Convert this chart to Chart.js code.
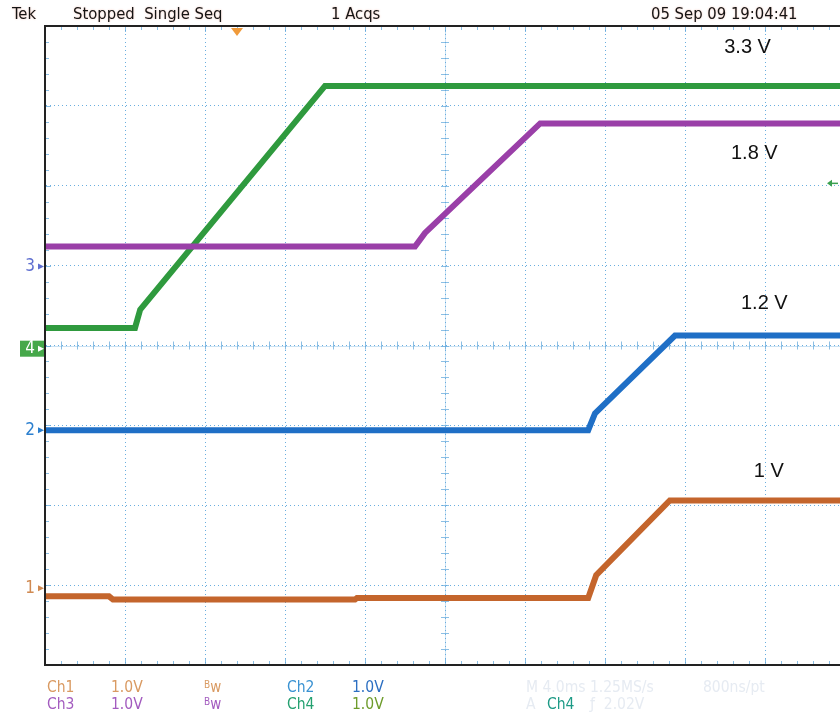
<!DOCTYPE html>
<html>
<head>
<meta charset="utf-8">
<script src="https://cdn.jsdelivr.net/npm/chart.js@4"></script>
<style>
  html,body{margin:0;padding:0;background:#fff;overflow:hidden;width:840px;height:717px;}
  #wrap{position:absolute;left:0;top:0;width:850px;height:717px;}
  .t{position:absolute;font-family:"Liberation Sans Narrow","DejaVu Sans Condensed","Liberation Sans",Arial,sans-serif;font-size:15.5px;white-space:nowrap;line-height:16px;}
  .hd{color:#151515;font-size:16.5px;text-shadow:0 0 2px rgba(230,120,90,0.45);}
</style>
</head>
<body>
<div id="wrap"><canvas id="c" width="850" height="717"></canvas></div>

<div class="t hd" style="left:12px;top:6px;">Tek</div>
<div class="t hd" style="left:73px;top:6px;">Stopped&nbsp; Single Seq</div>
<div class="t hd" style="left:331px;top:6px;">1 Acqs</div>
<div class="t hd" style="left:651px;top:6px;">05 Sep 09 19:04:41</div>

<div class="t" style="left:47px;top:679px;color:#d99a62;">Ch1</div>
<div class="t" style="left:111px;top:679px;color:#d99a62;">1.0V</div>
<div class="t" style="left:204px;top:679px;color:#d99a62;font-size:15px;"><span style="position:relative;top:-4px;font-size:10px;">B</span>w</div>
<div class="t" style="left:287px;top:679px;color:#3a92d2;">Ch2</div>
<div class="t" style="left:352px;top:679px;color:#2c6fc2;">1.0V</div>
<div class="t" style="left:47px;top:696px;color:#a35cbf;">Ch3</div>
<div class="t" style="left:111px;top:696px;color:#a35cbf;">1.0V</div>
<div class="t" style="left:204px;top:696px;color:#a35cbf;font-size:15px;"><span style="position:relative;top:-4px;font-size:10px;">B</span>w</div>
<div class="t" style="left:287px;top:696px;color:#24a070;">Ch4</div>
<div class="t" style="left:352px;top:696px;color:#6e9c2c;">1.0V</div>
<div class="t" style="left:526px;top:679px;color:#e6ebf2;">M 4.0ms 1.25MS/s</div>
<div class="t" style="left:703px;top:679px;color:#e6ebf2;">800ns/pt</div>
<div class="t" style="left:526px;top:696px;color:#e6ebf2;">A</div>
<div class="t" style="left:547px;top:696px;color:#1d9a86;">Ch4</div>
<div class="t" style="left:590px;top:696px;color:#e6ebf2;">ƒ&nbsp;&nbsp;2.02V</div>

<script>
// ---- data (x and y in screen divisions: 10 x 8 graticule) ----
const ch4X = [0, 1.125, 1.19, 3.5, 10];
const ch4Y = [4.22, 4.22, 4.45, 7.25, 7.25];
const ch3X = [0, 4.625, 4.75, 6.19, 10];
const ch3Y = [5.24, 5.24, 5.41, 6.78, 6.78];
const ch2X = [0, 6.79, 6.875, 7.875, 10];
const ch2Y = [2.94, 2.94, 3.15, 4.125, 4.125];
const ch1X = [0, 0.8, 0.85, 3.875, 3.9, 6.79, 6.89, 7.81, 10];
const ch1Y = [0.86, 0.86, 0.82, 0.82, 0.84, 0.84, 1.125, 2.06, 2.06];

const seriesNames = ["Ch1", "Ch2", "Ch3", "Ch4"];
const seriesColors = ["#c4652c", "#1f6fc6", "#9a3fa8", "#2f9a3e"];
const groundMarkers = ["1", "2", "3", "4"];
const groundLevels = [0.96, 2.94, 4.99, 3.96];
const voltLabels = ["1 V", "1.2 V", "1.8 V", "3.3 V"];
const voltLabelX = [8.86, 8.7, 8.575, 8.49];
const voltLabelY = [2.425, 4.525, 6.4, 7.725];
const triggerX = 2.4;
const triggerLevel = 6.03;

const toPts = (xs, ys) => xs.map((x, i) => ({x: x, y: ys[i]}));
const seriesData = [toPts(ch1X, ch1Y), toPts(ch2X, ch2Y), toPts(ch3X, ch3Y), toPts(ch4X, ch4Y)];

const gratPlugin = {
  id: 'grat',
  beforeDatasetsDraw(chart) {
    const {ctx, chartArea: a, scales: {x, y}} = chart;
    ctx.save();
    ctx.strokeStyle = 'rgba(100,170,220,0.75)';
    ctx.lineWidth = 1;
    const xc = x.getPixelForValue(5), yc = y.getPixelForValue(4);
    for (let i = 0; i <= 50; i++) {
      const px = Math.round(x.getPixelForValue(i * 0.2)) + 0.5;
      const major = i % 5 === 0;
      ctx.beginPath();
      ctx.moveTo(px, yc - 4); ctx.lineTo(px, yc + 4);
      ctx.moveTo(px, a.top); ctx.lineTo(px, a.top + (major ? 6 : 4));
      ctx.moveTo(px, a.bottom); ctx.lineTo(px, a.bottom - (major ? 6 : 4));
      ctx.stroke();
    }
    for (let i = 0; i <= 40; i++) {
      const py = Math.round(y.getPixelForValue(i * 0.2)) + 0.5;
      const major = i % 5 === 0;
      ctx.beginPath();
      ctx.moveTo(xc - 4, py); ctx.lineTo(xc + 4, py);
      ctx.moveTo(a.left, py); ctx.lineTo(a.left + (major ? 6 : 4), py);
      ctx.stroke();
    }
    ctx.strokeStyle = 'rgba(100,170,220,0.35)';
    ctx.beginPath();
    ctx.moveTo(Math.round(xc) + 0.5, a.top); ctx.lineTo(Math.round(xc) + 0.5, a.bottom);
    ctx.moveTo(a.left, Math.round(yc) + 0.5); ctx.lineTo(a.right, Math.round(yc) + 0.5);
    ctx.stroke();
    ctx.restore();
  },
  afterDraw(chart) {
    const {ctx, chartArea: a, scales: {x, y}} = chart;
    ctx.save();
    ctx.setLineDash([]);
    ctx.strokeStyle = '#222';
    ctx.lineWidth = 2;
    ctx.beginPath();
    ctx.moveTo(a.left, a.top); ctx.lineTo(a.right, a.top);
    ctx.moveTo(a.left, a.top - 1); ctx.lineTo(a.left, a.bottom + 1);
    ctx.moveTo(a.left - 1, a.bottom); ctx.lineTo(a.right, a.bottom);
    ctx.stroke();
    const markerColors = ["#d08a52", "#2b7fcf", "#5f6fd0", "#ffffff"];
    ctx.font = '17px "Liberation Sans Narrow","DejaVu Sans Condensed","Liberation Sans",Arial';
    ctx.textBaseline = 'middle';
    ctx.textAlign = 'right';
    groundMarkers.forEach((m, i) => {
      const py = y.getPixelForValue(groundLevels[i]);
      if (m === "4") {
        ctx.fillStyle = '#46a84a';
        ctx.fillRect(a.left - 25, py - 8, 24, 16);
      }
      ctx.fillStyle = markerColors[i];
      ctx.fillText(m, a.left - 10, py);
      ctx.beginPath();
      ctx.moveTo(a.left - 1, py);
      ctx.lineTo(a.left - 7, py - 3);
      ctx.lineTo(a.left - 7, py + 3);
      ctx.closePath();
      ctx.fill();
    });
    const tx = x.getPixelForValue(triggerX);
    ctx.fillStyle = '#f09a3a';
    ctx.beginPath();
    ctx.moveTo(tx - 6, a.top + 2);
    ctx.lineTo(tx + 6, a.top + 2);
    ctx.lineTo(tx, a.top + 10);
    ctx.closePath();
    ctx.fill();
    const ty = y.getPixelForValue(triggerLevel);
    ctx.strokeStyle = '#3aa050';
    ctx.fillStyle = '#3aa050';
    ctx.lineWidth = 1.5;
    ctx.beginPath();
    ctx.moveTo(838, ty); ctx.lineTo(829, ty); ctx.stroke();
    ctx.beginPath();
    ctx.moveTo(827, ty); ctx.lineTo(832, ty - 3.5); ctx.lineTo(832, ty + 3.5); ctx.closePath(); ctx.fill();
    ctx.font = '20px "Liberation Sans",Arial,sans-serif';
    ctx.fillStyle = '#111';
    ctx.textAlign = 'left';
    voltLabels.forEach((t, i) => {
      ctx.fillText(t, x.getPixelForValue(voltLabelX[i]), y.getPixelForValue(voltLabelY[i]));
    });
    ctx.restore();
  }
};

new Chart(document.getElementById('c'), {
  type: 'scatter',
  data: {
    datasets: seriesData.map((d, i) => ({
      label: seriesNames[i],
      data: d,
      showLine: true,
      borderColor: seriesColors[i],
      backgroundColor: seriesColors[i],
      borderWidth: 6,
      pointRadius: 0,
      tension: 0,
      borderCapStyle: 'butt',
      borderJoinStyle: 'miter'
    }))
  },
  options: {
    responsive: false,
    animation: false,
    events: [],
    layout: {padding: {left: 45, top: 26, right: 5, bottom: 52}},
    plugins: {legend: {display: false}, tooltip: {enabled: false}},
    scales: {
      x: {
        type: 'linear', min: 0, max: 10,
        ticks: {display: false, stepSize: 1},
        grid: {color: 'rgba(90,165,220,0.9)', drawTicks: false, lineWidth: 1},
        border: {display: true, color: '#222', width: 2, dash: [1, 3]},
      },
      y: {
        type: 'linear', min: 0, max: 8,
        ticks: {display: false, stepSize: 1},
        grid: {color: 'rgba(90,165,220,0.9)', drawTicks: false, lineWidth: 1},
        border: {display: true, color: '#222', width: 2, dash: [1, 3]},
      }
    }
  },
  plugins: [gratPlugin]
});
</script>
</body>
</html>
